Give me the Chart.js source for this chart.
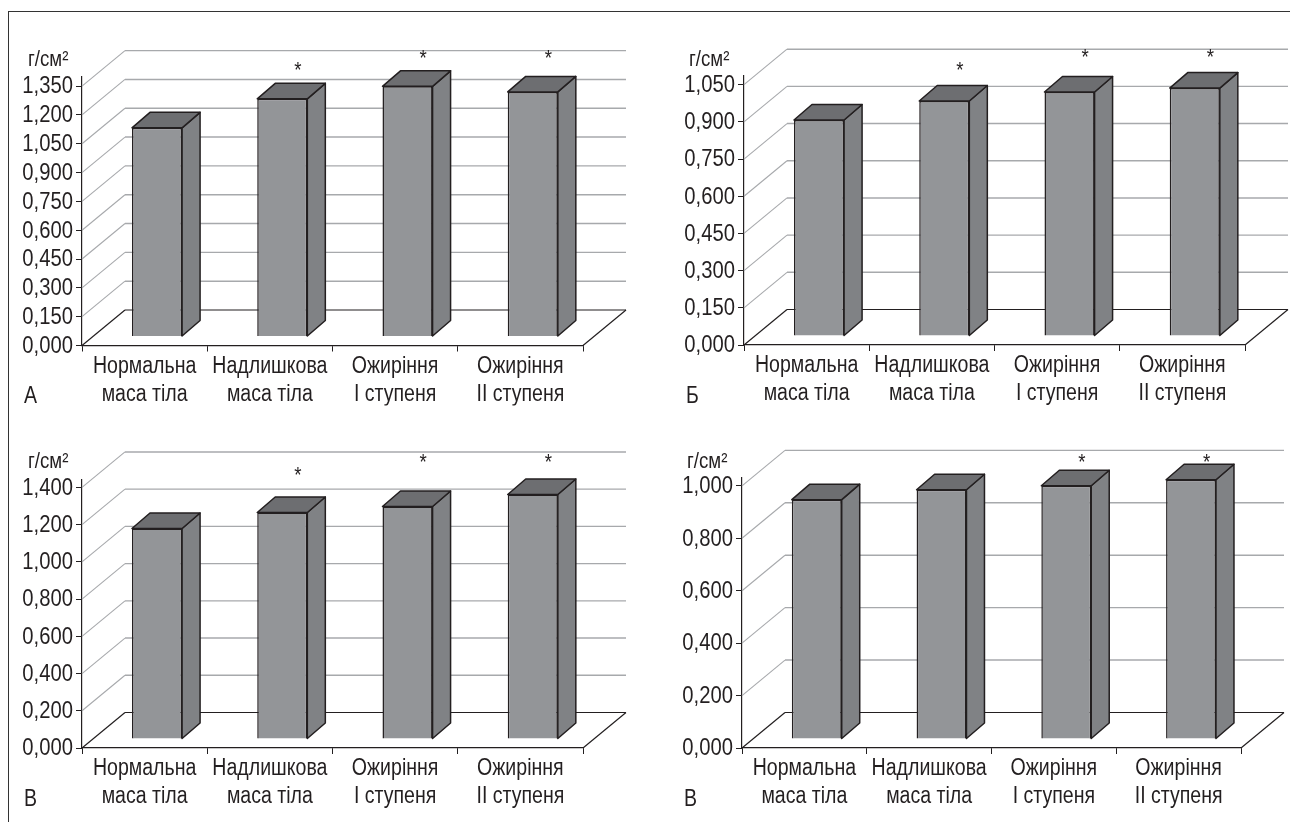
<!DOCTYPE html>
<html><head><meta charset="utf-8">
<script src="https://cdn.jsdelivr.net/npm/chart.js@4"></script>
<style>
html,body{margin:0;padding:0;background:#fff;width:1290px;height:822px;overflow:hidden}
#frame{position:absolute;left:8px;top:10.5px;width:1290px;height:830px;border-left:1.5px solid #333;border-top:1.5px solid #333}
canvas{position:absolute}
</style></head><body>
<div id="frame"></div>
<canvas id="c0" style="left:10px;top:14px" width="630" height="395"></canvas>
<canvas id="c1" style="left:672px;top:14px" width="618" height="395"></canvas>
<canvas id="c2" style="left:10px;top:417px" width="630" height="395"></canvas>
<canvas id="c3" style="left:670px;top:417px" width="620" height="395"></canvas>
<script>
const categories = [["Нормальна","маса тіла"],["Надлишкова","маса тіла"],["Ожиріння","І ступеня"],["Ожиріння","ІІ ступеня"]];
const valuesA = [1.086,1.237,1.302,1.273];
const valuesB = [0.871,0.948,0.984,1.000];
const valuesC = [1.131,1.217,1.249,1.314];
const valuesD = [0.913,0.951,0.966,0.989];
const starsA = [null,1.450,1.513,1.513];
const starsB = [null,1.121,1.173,1.173];
const starsC = [null,1.485,1.555,1.555];
const starsD = [null,null,1.103,1.103];
const panelLetters = ["А","Б","В","В"];
const unitLabel = "г/см²";
const stepsY = [0.15,0.15,0.2,0.2];
const maxY = [1.4,1.085,1.44,1.03];

const FONT = '"Liberation Sans",sans-serif';
const INK = '#231f20';
const GRID = '#a7a9ac';
const FRONT = '#939598', SIDE = '#808285', TOP = '#6d6e71';

const layouts = [
  {ax:82, ay:345.5, right:583, top:76.5, canvas:[10,14], w:630,h:395, unit:[28,58], letter:[24,395]},
  {ax:744,ay:345,   right:1245,top:76,   canvas:[672,14],w:618,h:395, unit:[689,58],letter:[686,395]},
  {ax:82, ay:748,   right:583, top:480,  canvas:[10,417],w:630,h:395, unit:[28,460],letter:[24,798]},
  {ax:742,ay:748,   right:1241,top:478,  canvas:[670,417],w:620,h:395,unit:[687,460],letter:[684,798]}
];
const WALL = {dx:43, dy:-35.5};
const FLOOR = {dx:12.4, dy:-9};
const BAR3D = {dx:18, dy:-15.5};

function seg(ctx,x1,y1,x2,y2,col,w){ctx.strokeStyle=col;ctx.lineWidth=w;ctx.beginPath();ctx.moveTo(x1,y1);ctx.lineTo(x2,y2);ctx.stroke();}

function poly(ctx,pts,fill){ctx.fillStyle=fill;ctx.strokeStyle=INK;ctx.lineWidth=1.5;ctx.lineJoin='round';ctx.beginPath();
  pts.forEach((p,i)=>i?ctx.lineTo(p[0],p[1]):ctx.moveTo(p[0],p[1]));ctx.closePath();ctx.fill();ctx.stroke();}

// The reference uses a condensed sans: narrow every text run around its anchor.
function condense(ctx){
  const orig=ctx.fillText.bind(ctx);
  ctx.fillText=function(t,x,y){
    const num=/^\d,\d/.test(t);
    const k=num?0.88:0.85;
    ctx.save();ctx.translate(x,y+(num?1:0));ctx.scale(k,1);orig(t,0,0);ctx.restore();
  };
}

const scene = {
  id:'scene',
  beforeDatasetsDraw(chart,a,o){
    const ctx=chart.ctx,{x,y}=chart.scales,L=x.left,R=x.right;
    ctx.save();
    y.ticks.forEach(t=>{
      if(t.value===0) return;
      const p=y.getPixelForValue(t.value);
      seg(ctx,L,p,L+WALL.dx,p+WALL.dy,GRID,1.1);
      seg(ctx,L+WALL.dx,p+WALL.dy,R+WALL.dx,p+WALL.dy,GRID,1.4);
    });
    const b=y.getPixelForValue(0);
    seg(ctx,L,b,L+WALL.dx,b+WALL.dy,INK,1.2);
    seg(ctx,L+WALL.dx,b+WALL.dy,R+WALL.dx,b+WALL.dy,INK,1.2);
    seg(ctx,R,b,R+WALL.dx,b+WALL.dy,INK,1.2);
    chart.getDatasetMeta(0).data.forEach(el=>{
      const x0=el.x-el.width/2+FLOOR.dx,x1=el.x+el.width/2+FLOOR.dx,yT=el.y+FLOOR.dy,yB=el.base+FLOOR.dy;
      poly(ctx,[[x1,yT],[x1+BAR3D.dx,yT+BAR3D.dy],[x1+BAR3D.dx,yB+BAR3D.dy],[x1,yB]],SIDE);
      poly(ctx,[[x0,yT],[x0+BAR3D.dx,yT+BAR3D.dy],[x1+BAR3D.dx,yT+BAR3D.dy],[x1,yT]],TOP);
    });
    ctx.restore();
  },
  beforeDatasetDraw(chart){chart.ctx.save();chart.ctx.translate(FLOOR.dx,FLOOR.dy);},
  afterDatasetDraw(chart){chart.ctx.restore();},
  afterDraw(chart,a,o){
    const ctx=chart.ctx,{x,y}=chart.scales;
    ctx.save();ctx.fillStyle=INK;ctx.textBaseline='alphabetic';
    ctx.textAlign='center';ctx.font='22px '+FONT;
    o.stars.forEach((v,i)=>{ if(v===null) return;
      ctx.fillText('*',x.getPixelForValue(i)+FLOOR.dx+BAR3D.dx-2.5,y.getPixelForValue(v)+10);
    });
    ctx.textAlign='left';ctx.font='22px '+FONT;
    ctx.fillText(unitLabel,o.unit[0]-o.off[0],o.unit[1]+8-o.off[1]);
    ctx.font='23px '+FONT;
    ctx.fillText(o.letter,o.letterAt[0]-o.off[0],o.letterAt[1]+8-o.off[1]);
    ctx.restore();
  }
};

[[valuesA,starsA],[valuesB,starsB],[valuesC,starsC],[valuesD,starsD]].forEach(([vals,stars],i)=>{
  const g=layouts[i],cx=g.canvas[0],cy=g.canvas[1],YW=70,XH=60;
  const el=document.getElementById('c'+i);
  condense(el.getContext('2d'));
  new Chart(el,{
    type:'bar',
    data:{labels:categories,datasets:[{data:vals,backgroundColor:FRONT,borderColor:INK,borderWidth:1.5,barPercentage:0.4,categoryPercentage:1,clip:false}]},
    plugins:[scene],
    options:{
      responsive:false,animation:false,
      layout:{padding:{left:g.ax-cx-YW,top:g.top-cy,right:g.w-(g.right-cx),bottom:g.h-(g.ay-cy)-XH}},
      plugins:{legend:{display:false},tooltip:{enabled:false},title:{display:false},
        scene:{stars,unit:g.unit,letter:panelLetters[i],letterAt:g.letter,off:g.canvas}},
      scales:{
        x:{afterFit(s){s.height=XH;},
           grid:{drawOnChartArea:false,drawTicks:true,tickLength:6,color:INK,offset:true},
           border:{color:INK,width:1.2},
           ticks:{color:INK,font:{family:FONT,size:23,lineHeight:1.22},maxRotation:0,minRotation:0,autoSkip:false,padding:1}},
        y:{min:0,max:maxY[i],afterFit(s){s.width=YW;},
           grid:{drawOnChartArea:false,drawTicks:true,tickLength:6,color:INK},
           border:{color:INK,width:1.2},
           ticks:{stepSize:stepsY[i],includeBounds:false,autoSkip:false,color:INK,font:{family:FONT,size:23},padding:3,
             callback:v=>v.toFixed(3).replace('.',',')}}
      }
    }
  });
});
</script></body></html>
